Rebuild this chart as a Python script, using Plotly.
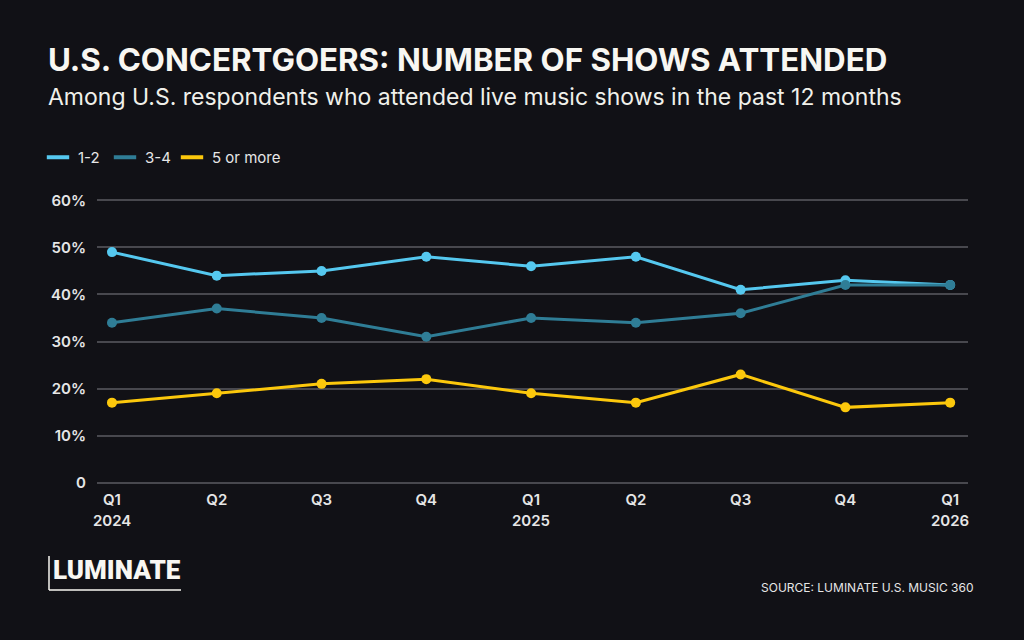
import plotly.graph_objects as go

quarters = ["Q1", "Q2", "Q3", "Q4", "Q1", "Q2", "Q3", "Q4", "Q1"]
year_labels = ["2024", "2025", "2026"]
year_positions = [0, 4, 8]
series_names = ["1-2", "3-4", "5 or more"]
v_1_2 = [49, 44, 45, 48, 46, 48, 41, 43, 42]
v_3_4 = [34, 37, 35, 31, 35, 34, 36, 42, 42]
v_5_more = [17, 19, 21, 22, 19, 17, 23, 16, 17]
y_ticks = [0, 10, 20, 30, 40, 50, 60]
y_tick_labels = ["0", "10%", "20%", "30%", "40%", "50%", "60%"]

colors = ["#55c8ef", "#2f7d96", "#fcc80c"]
BG = "#111116"
FONT = "Inter, Roboto, sans-serif"

# plot area in pixels
L, R, T, B = 97, 968, 198, 485
W = R - L
H = B - T


def px(x):
    return (x - L) / W


def py(y):
    return (B - y) / H


x_idx = list(range(len(quarters)))
fig = go.Figure()
for name, vals, c in zip(series_names, [v_1_2, v_3_4, v_5_more], colors):
    fig.add_trace(go.Scatter(
        x=x_idx, y=vals, mode="lines+markers", name=name,
        line=dict(color=c, width=3), marker=dict(color=c, size=10),
        showlegend=False, cliponaxis=False,
        hovertemplate="%{y}%<extra>" + name + "</extra>"))

legend_ids = ["legend", "legend2", "legend3"]
legend_x = [38, 105, 172]
# legend entries, one legend box each so they can be positioned precisely
for name, c, lid in zip(series_names, colors, legend_ids):
    fig.add_trace(go.Scatter(
        x=[None], y=[None], mode="markers", name=name, legend=lid,
        marker=dict(symbol="line-ew", size=17, line=dict(color=c, width=4)),
        showlegend=True))

fig.update_layout(
    width=1024, height=640,
    paper_bgcolor=BG, plot_bgcolor=BG,
    margin=dict(l=L, r=1024 - R, t=T, b=640 - B),
    font=dict(family=FONT, color="#e6e6e6"),
    showlegend=True,
    xaxis=dict(range=[-0.143, 8.17], tickmode="array", tickvals=x_idx, ticktext=quarters,
               showgrid=False, zeroline=False, showline=False, ticks="",
               ticklabelstandoff=4,
               tickfont=dict(size=15, color="#e6e6e6", family=FONT, weight=600),
               fixedrange=True),
    yaxis=dict(range=[-0.5, 60.5], tickmode="array", tickvals=y_ticks, ticktext=y_tick_labels,
               showgrid=True, gridcolor="#48484e", gridwidth=1.5, zeroline=False,
               showline=False, ticks="", ticklabelstandoff=10,
               tickfont=dict(size=15, color="#e6e6e6", family=FONT, weight=600),
               fixedrange=True),
)
for lid, lx in zip(legend_ids, legend_x):
    fig.update_layout({lid: dict(orientation="h", x=px(lx), y=py(141), xanchor="left", yanchor="top",
                                 font=dict(size=15, color="#e6e6e6", family=FONT),
                                 itemwidth=30, bgcolor="rgba(0,0,0,0)")})

for yl, xp in zip(year_labels, year_positions):
    fig.add_annotation(text=yl, xref="x", yref="paper", x=xp, y=py(520),
                       xanchor="center", yanchor="middle", showarrow=False,
                       font=dict(size=15, color="#e6e6e6", family=FONT, weight=600))

fig.add_annotation(text="<b>U.S. CONCERTGOERS: NUMBER OF SHOWS ATTENDED</b>",
                   xref="paper", yref="paper", x=px(46), y=py(60),
                   xanchor="left", yanchor="middle", showarrow=False,
                   font=dict(size=31.3, color="#f8f7f2", family=FONT))
fig.add_annotation(text="Among U.S. respondents who attended live music shows in the past 12 months",
                   xref="paper", yref="paper", x=px(46), y=py(97),
                   xanchor="left", yanchor="middle", showarrow=False,
                   font=dict(size=23, color="#f0f0ea", family=FONT))
fig.add_annotation(text="SOURCE: LUMINATE U.S. MUSIC 360",
                   xref="paper", yref="paper", x=px(976), y=py(587),
                   xanchor="right", yanchor="middle", showarrow=False,
                   font=dict(size=12, color="#e6e6e6", family=FONT))
# Logo
fig.add_annotation(text="LUMINATE",
                   xref="paper", yref="paper", x=px(51), y=py(570),
                   xanchor="left", yanchor="middle", showarrow=False,
                   font=dict(size=26, color="#f8f7f2", family="Roboto", weight=900))
fig.add_shape(type="line", xref="paper", yref="paper",
              x0=px(49), x1=px(49), y0=py(556), y1=py(590),
              line=dict(color="#f8f7f2", width=1.5))
fig.add_shape(type="line", xref="paper", yref="paper",
              x0=px(49), x1=px(181), y0=py(590), y1=py(590),
              line=dict(color="#f8f7f2", width=1.5))

fig.write_html("out.html")
